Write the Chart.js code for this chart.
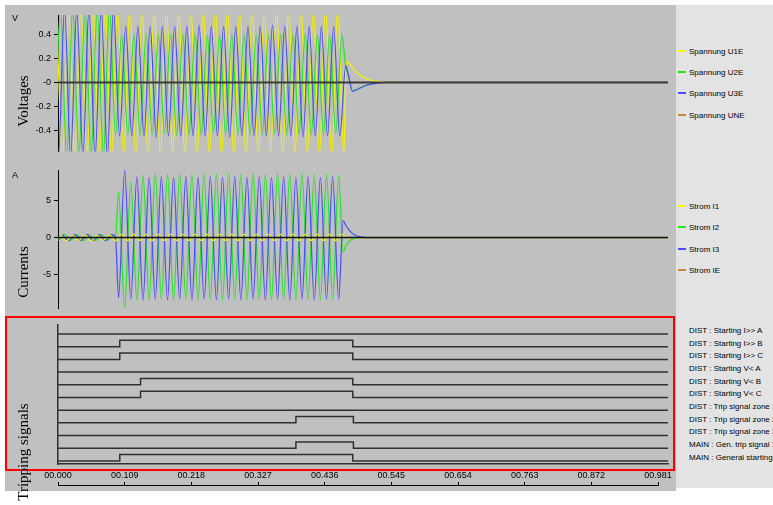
<!DOCTYPE html>
<html>
<head>
<meta charset="utf-8">
<script src="https://cdn.jsdelivr.net/npm/chart.js@4.4.0/dist/chart.umd.min.js"></script>
<style>
html, body { margin:0; padding:0; background:#fff; width:773px; height:505px; overflow:hidden; font-family:'Liberation Sans', Arial, sans-serif; }
#panel { position:absolute; left:5px; top:5px; width:671px; height:486px; background:#c0c0c0; }
#legendBg { position:absolute; left:676px; top:5px; width:97px; height:483px; background:#e3e3e3; }
canvas { position:absolute; left:0; }
#redBox { position:absolute; left:5px; top:316px; width:666px; height:151px; border:2px solid #f00; pointer-events:none; }
.unit { position:absolute; font-size:9px; color:#000; }
.title { position:absolute; font-family:'Liberation Serif', 'Times New Roman', serif; font-size:15px; color:#000; white-space:nowrap; transform:translate(-50%,-50%) rotate(-90deg); }
.leg { position:absolute; left:678px; font-size:8px; line-height:10px; height:10px; white-space:nowrap; color:#000; }
.sw { display:inline-block; width:8px; height:2px; vertical-align:middle; margin-right:3px; position:relative; top:-1px; }
.sig { position:absolute; left:689px; font-size:8px; line-height:10px; white-space:nowrap; color:#000; }
</style>
</head>
<body>
<div id="panel"></div>
<div id="legendBg"></div>
<canvas id="voltChart" width="676" height="160" style="top:0"></canvas>
<canvas id="currChart" width="676" height="158" style="top:160px"></canvas>
<canvas id="sigChart" width="676" height="150" style="top:318px"></canvas>
<canvas id="timeChart" width="676" height="24" style="top:468px"></canvas>
<div id="redBox"></div>
<div class="unit" style="left:12px;top:13px">V</div>
<div class="unit" style="left:12px;top:170px">A</div>
<div class="title" style="left:23px;top:101px">Voltages</div>
<div class="title" style="left:23px;top:272px">Currents</div>
<div class="title" style="left:23px;top:452px">Tripping signals</div>
<div id="legends"></div>
<script>
// time axis
const xMax = 0.9974;
const timeTickValues = [0, 0.109, 0.218, 0.327, 0.436, 0.545, 0.654, 0.763, 0.872, 0.981];
const timeTickLabels = ['00.000', '00.109', '00.218', '00.327', '00.436', '00.545', '00.654', '00.763', '00.872', '00.981'];

const voltTickValues = [-0.4, -0.2, 0, 0.2, 0.4];
const voltTickLabels = ['-0.4', '-0.2', '-0', '0.2', '0.4'];
const currTickValues = [-5, 0, 5];
const currTickLabels = ['-5', '0', '5'];

// samples are the half-cycle extremes (50 Hz -> every 10 ms)
const halfPeriod = 0.01;

const voltNames = ['Spannung U1E', 'Spannung U2E', 'Spannung U3E', 'Spannung UNE'];
const currNames = ['Strom I1', 'Strom I2', 'Strom I3', 'Strom IE'];

// Voltages (V)
const u1Start = -0.0026;
const u1Peaks = [
  0.62, -0.62, 0.62, -0.62, 0.62, -0.62, 0.62, -0.62, 0.62, -0.62,
  0.62, -0.62, 0.62, -0.62, 0.62, -0.62, 0.62, -0.62, 0.62, -0.62,
  0.62, -0.62, 0.62, -0.62, 0.62, -0.62, 0.62, -0.62, 0.62, -0.62,
  0.62, -0.62, 0.62, -0.62, 0.62, -0.62, 0.62, -0.62, 0.62, -0.62,
  0.62, -0.62, 0.62, -0.62, 0.62, -0.62, 0.62, -0.62
];
const u1Tail = [[0.4705, 0.10], [0.4735, 0.175], [0.478, 0.15], [0.485, 0.10], [0.495, 0.055], [0.51, 0.02], [0.53, 0.005], [0.55, 0], [0.9974, 0]];

const u2Start = -0.0059;
const u2Peaks = [
  -0.62, 0.62, -0.62, 0.62, -0.62, 0.62, -0.62, 0.62, -0.62, 0.62,
  -0.44, 0.40, -0.44, 0.40, -0.44, 0.41, -0.44, 0.40, -0.43, 0.40,
  -0.44, 0.40, -0.44, 0.41, -0.44, 0.40, -0.43, 0.40, -0.44, 0.40,
  -0.44, 0.41, -0.44, 0.40, -0.44, 0.40, -0.43, 0.40, -0.44, 0.40,
  -0.44, 0.41, -0.44, 0.40, -0.44, 0.40, -0.43, 0.40
];
const u2Tail = [[0.4705, 0.13], [0.475, 0.05], [0.4815, -0.07], [0.49, -0.055], [0.50, -0.03], [0.515, -0.01], [0.54, 0], [0.9974, 0]];

const u3Start = -0.0093;
const u3Peaks = [
  0.62, -0.62, 0.62, -0.62, 0.62, -0.62, 0.62, -0.62, 0.62, -0.62,
  0.62, -0.45, 0.47, -0.45, 0.47, -0.45, 0.47, -0.46, 0.47, -0.45,
  0.47, -0.45, 0.47, -0.45, 0.48, -0.45, 0.47, -0.45, 0.47, -0.46,
  0.47, -0.45, 0.47, -0.45, 0.47, -0.45, 0.48, -0.45, 0.47, -0.45,
  0.47, -0.46, 0.47, -0.45, 0.47, -0.45, 0.47, -0.45
];
const u3Tail = [[0.4705, 0.14], [0.475, 0.06], [0.4815, -0.075], [0.49, -0.058], [0.50, -0.032], [0.515, -0.012], [0.54, 0], [0.9974, 0]];

const uneLine = [[0, 0], [0.9974, 0]];

// Currents (A)
const i1Start = 0.004;
const i1Peaks = [
  0.35, -0.45, 0.30, -0.40, 0.35, -0.45, 0.30, -0.40, 0.35, -0.45,
  0.45, -0.40, 0.45, -0.40, 0.45, -0.40, 0.45, -0.40, 0.45, -0.40,
  0.45, -0.40, 0.45, -0.40, 0.45, -0.40, 0.45, -0.40, 0.45, -0.40,
  0.45, -0.40, 0.45, -0.40, 0.45, -0.40, 0.45, -0.40, 0.45, -0.40,
  0.45, -0.40, 0.45, -0.40, 0.45, -0.40, 0.45
];
const i1Tail = [[0.472, 0], [0.9974, 0]];

const i2PreStart = 0.0007;
const i2PrePeaks = [-0.40, 0.45, -0.40, 0.40, -0.45, 0.40, -0.40, 0.45, -0.40, 0.40];
const i2FaultStart = 0.099;
const i2FaultPeaks = [
  6.2, -9.7, 7.5, -8.6, 8.5, -8.5, 8.7, -8.4, 8.6, -8.5,
  8.7, -8.4, 8.6, -8.5, 8.7, -8.4, 8.6, -8.5, 8.7, -8.4,
  8.6, -8.5, 8.7, -8.4, 8.6, -8.5, 8.7, -8.4, 8.6, -8.5,
  8.7, -8.4, 8.6, -8.5, 8.6, -8.4, 8.5
];
const i2Tail = [[0.466, -2.0], [0.470, -1.3], [0.475, -0.6], [0.482, -0.2], [0.492, 0], [0.9974, 0]];

const i3PreStart = 0.0073;
const i3PrePeaks = [0.40, -0.45, 0.40, -0.40, 0.45, -0.40, 0.40, -0.45, 0.40];
const i3FaultStart = 0.099;
const i3FaultPeaks = [
  -8.2, 9.2, -8.4, 8.3, -8.5, 8.2, -8.4, 8.3, -8.5, 8.2,
  -8.4, 8.3, -8.5, 8.2, -8.4, 8.3, -8.5, 8.2, -8.4, 8.3,
  -8.5, 8.2, -8.4, 8.3, -8.5, 8.2, -8.4, 8.3, -8.5, 8.2,
  -8.4, 8.3, -8.5, 8.2, -8.4, 8.3, -8.4
];
const i3Tail = [[0.466, 2.3], [0.471, 1.6], [0.477, 0.9], [0.484, 0.4], [0.494, 0.1], [0.505, 0], [0.9974, 0]];

const ieLine = [[0, 0], [0.9974, 0]];

// Tripping signals (on / off times in s, null = never set)
const signalNames = [
  'DIST : Starting I>> A', 'DIST : Starting I>> B', 'DIST : Starting I>> C',
  'DIST : Starting V< A', 'DIST : Starting V< B', 'DIST : Starting V< C',
  'DIST : Trip signal zone 1', 'DIST : Trip signal zone 2', 'DIST : Trip signal zone 3',
  'MAIN : Gen. trip signal 1', 'MAIN : General starting'
];
const signalOn = [null, 0.101, 0.101, null, 0.135, 0.135, null, 0.389, null, 0.389, 0.101];
const signalOff = [null, 0.482, 0.482, null, 0.482, 0.482, null, 0.483, null, 0.483, 0.482];

const yellow = '#f4f400', green = '#22e622', blue = '#4b4bff', orange = '#c8853c';

function wave(start, values) {
  return values.map((v, i) => ({ x: start + i * halfPeriod, y: v }));
}
function pts(list) {
  return list.map(p => ({ x: p[0], y: p[1] }));
}
function line(data, color) {
  return { data: data, borderColor: color, borderWidth: 1.2, pointRadius: 0, cubicInterpolationMode: 'monotone', fill: false };
}

const zeroLine = {
  id: 'zeroLine',
  afterDatasetsDraw(chart, args, opts) {
    if (!opts || !opts.color) return;
    const ctx = chart.ctx, a = chart.chartArea;
    const y = chart.scales.y.getPixelForValue(0);
    ctx.save();
    ctx.strokeStyle = opts.color;
    ctx.lineWidth = opts.width;
    ctx.beginPath();
    ctx.moveTo(a.left, y);
    ctx.lineTo(a.right, y);
    ctx.stroke();
    ctx.restore();
  }
};

function yAxis(min, max, values, labels) {
  return {
    min: min, max: max,
    afterFit: s => { s.width = 58; },
    afterBuildTicks: s => { s.ticks = values.map(v => ({ value: v })); },
    ticks: { callback: v => labels[values.indexOf(v)], color: '#000', font: { size: 9 }, padding: 3, autoSkip: false },
    grid: { drawOnChartArea: false, tickLength: 4, color: '#000' },
    border: { color: '#000', width: 1 }
  };
}
const hiddenX = { type: 'linear', min: 0, max: xMax, display: false };

Chart.defaults.font.family = "'Liberation Sans', Arial, sans-serif";

new Chart(document.getElementById('voltChart'), {
  type: 'line',
  data: {
    datasets: [
      line(wave(u3Start, u3Peaks).concat(pts(u3Tail)), blue),
      line(wave(u2Start, u2Peaks).concat(pts(u2Tail)), green),
      line(wave(u1Start, u1Peaks).concat(pts(u1Tail)), yellow),
      line(pts(uneLine), orange)
    ]
  },
  options: {
    responsive: false, animation: false, events: [],
    layout: { padding: { left: 0, right: 8, top: 15, bottom: 7 } },
    scales: { x: hiddenX, y: yAxis(-0.58, 0.565, voltTickValues, voltTickLabels) },
    plugins: { legend: { display: false }, tooltip: { enabled: false }, zeroLine: { color: '#3c3c3c', width: 2 } }
  },
  plugins: [zeroLine]
});

new Chart(document.getElementById('currChart'), {
  type: 'line',
  data: {
    datasets: [
      line(wave(i1Start, i1Peaks).concat(pts(i1Tail)), yellow),
      line(wave(i3PreStart, i3PrePeaks).concat([{ x: 0.094, y: 0 }], wave(i3FaultStart, i3FaultPeaks), pts(i3Tail)), blue),
      line(wave(i2PreStart, i2PrePeaks).concat([{ x: 0.094, y: 0 }], wave(i2FaultStart, i2FaultPeaks), pts(i2Tail)), green),
      line(pts(ieLine), orange)
    ]
  },
  options: {
    responsive: false, animation: false, events: [],
    layout: { padding: { left: 0, right: 8, top: 10, bottom: 10 } },
    scales: { x: hiddenX, y: yAxis(-9.6, 9.2, currTickValues, currTickLabels) },
    plugins: { legend: { display: false }, tooltip: { enabled: false }, zeroLine: { color: '#111', width: 1.5 } }
  },
  plugins: [zeroLine]
});

// each signal sits on its own row: baseline -row, set level -row + 0.5
const sigDatasets = signalNames.map((name, r) => {
  const b = -r, h = 0.5;
  let d = [{ x: 0, y: b }];
  if (signalOn[r] !== null) {
    d.push({ x: signalOn[r], y: b }, { x: signalOn[r], y: b + h }, { x: signalOff[r], y: b + h }, { x: signalOff[r], y: b });
  }
  d.push({ x: xMax, y: b });
  return { label: name, data: d, borderColor: '#303030', borderWidth: 1.5, pointRadius: 0, tension: 0, fill: false };
});

const sigChart = new Chart(document.getElementById('sigChart'), {
  type: 'line',
  data: { datasets: sigDatasets },
  options: {
    responsive: false, animation: false, events: [],
    layout: { padding: { left: 0, right: 8, top: 7, bottom: 4 } },
    scales: {
      x: { type: 'linear', min: 0, max: xMax, ticks: { display: false }, grid: { drawOnChartArea: false, drawTicks: false }, border: { color: '#303030', width: 1.5 } },
      y: { min: -10.24, max: 0.71, afterFit: s => { s.width = 58; }, ticks: { display: false }, grid: { drawOnChartArea: false, drawTicks: false }, border: { color: '#303030', width: 1.5 } }
    },
    plugins: { legend: { display: false }, tooltip: { enabled: false } }
  }
});

new Chart(document.getElementById('timeChart'), {
  type: 'line',
  data: { datasets: [] },
  options: {
    responsive: false, animation: false, events: [],
    layout: { padding: { left: 58, right: 18, top: 0, bottom: 6 } },
    scales: {
      x: {
        type: 'linear', position: 'top', min: 0, max: 0.981,
        afterFit: s => { s.height = 17; },
        afterBuildTicks: s => { s.ticks = timeTickValues.map(v => ({ value: v })); },
        ticks: { callback: v => timeTickLabels[timeTickValues.indexOf(v)], color: '#000', font: { size: 9 }, padding: 1, maxRotation: 0, autoSkip: false },
        grid: { drawOnChartArea: false, tickLength: 3, color: '#000' },
        border: { color: '#000', width: 1 }
      },
      y: { display: false, min: 0, max: 1 }
    },
    plugins: { legend: { display: false }, tooltip: { enabled: false } }
  }
});

// legends
const legends = document.getElementById('legends');
function addLegend(names, colors, centers) {
  names.forEach((n, i) => {
    const el = document.createElement('div');
    el.className = 'leg';
    el.style.top = (centers[i] - 5) + 'px';
    el.innerHTML = '<span class="sw" style="background:' + colors[i] + '"></span>';
    el.appendChild(document.createTextNode(n));
    legends.appendChild(el);
  });
}
addLegend(voltNames, [yellow, green, blue, orange], [52, 73, 94, 116]);
addLegend(currNames, [yellow, green, blue, orange], [207, 228, 250, 271]);

const sy = sigChart.scales.y;
signalNames.forEach((n, r) => {
  const el = document.createElement('div');
  el.className = 'sig';
  el.style.top = (318 + sy.getPixelForValue(-r + 0.25) - 5) + 'px';
  el.textContent = n;
  legends.appendChild(el);
});
</script>
</body>
</html>
